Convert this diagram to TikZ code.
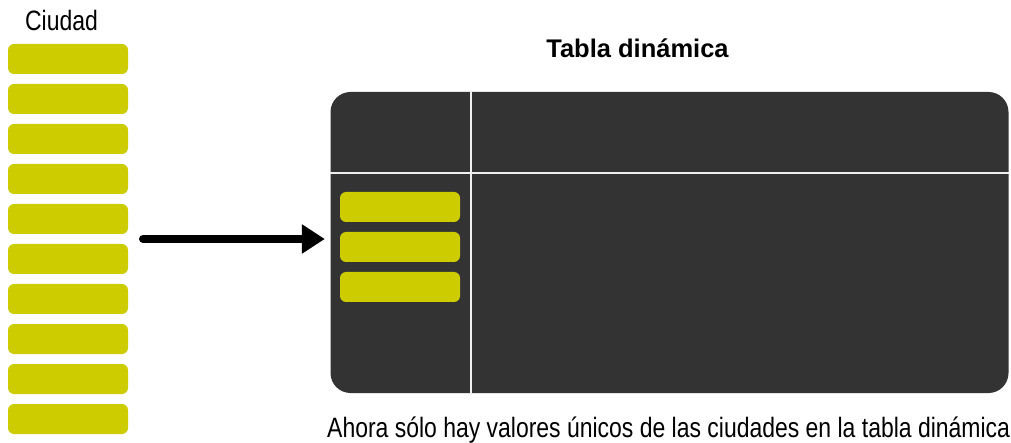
\documentclass[tikz,border=0pt]{standalone}
\usepackage{fontspec}
\setmainfont{Liberation Sans}
\newfontfamily\estrecha[FakeStretch=0.82]{Liberation Sans}
\usetikzlibrary{arrows.meta}
\definecolor{amarillo}{HTML}{CCCC00}
\definecolor{fondo}{HTML}{333333}

\begin{document}
\begin{tikzpicture}[x=1pt,y=-1pt]
	\useasboundingbox (0,0) rectangle (1011,443);

	\begin{scope}[every node/.style={fill=amarillo,rounded corners=6pt,minimum width=120pt,minimum height=30pt,inner sep=0pt}]
		\foreach \i in {1,...,10}
			\node (c\i) at (68,19+40*\i) {};
	\end{scope}

	\node[fill=fondo,rounded corners=20pt,minimum width=678pt,minimum height=301pt,inner sep=0pt] (T) at (669.5,242.5) {};

	\begin{scope}[every path/.style={draw=white!88!gray,line width=1.5pt}]
		\coordinate (vx) at (471,0);
		\coordinate (hy) at (0,173);
		\draw (vx |- T.north) -- (vx |- T.south);
		\draw (hy -| T.west) -- (hy -| T.east);
	\end{scope}

	\begin{scope}[every node/.style={fill=amarillo,rounded corners=6pt,minimum width=120pt,minimum height=30pt,inner sep=0pt}]
		\foreach \i in {1,2,3}
			\node (t\i) at (400,167+40*\i) {};
	\end{scope}

	\coordinate (ini) at (143,239);
	\draw [line width=8pt,line cap=round,-{Triangle[length=23pt,width=28pt]},shorten >=5.5pt] (ini) -- (ini -| T.west);

	\begin{scope}[every node/.style={inner sep=0pt,text=black}]
		\node[anchor=base,font=\estrecha\fontsize{28}{32}\selectfont] (ciudad) at (61.5,31) {Ciudad};
		\node[anchor=base,font=\bfseries\fontsize{25.5}{30}\selectfont] (titulo) at (637.5,58) {Tabla dinámica};
		\node[anchor=base west,font=\estrecha\fontsize{28}{32}\selectfont] (nota) at (327,437) {Ahora sólo hay valores únicos de las ciudades en la tabla dinámica};
	\end{scope}
\end{tikzpicture}
\end{document}
